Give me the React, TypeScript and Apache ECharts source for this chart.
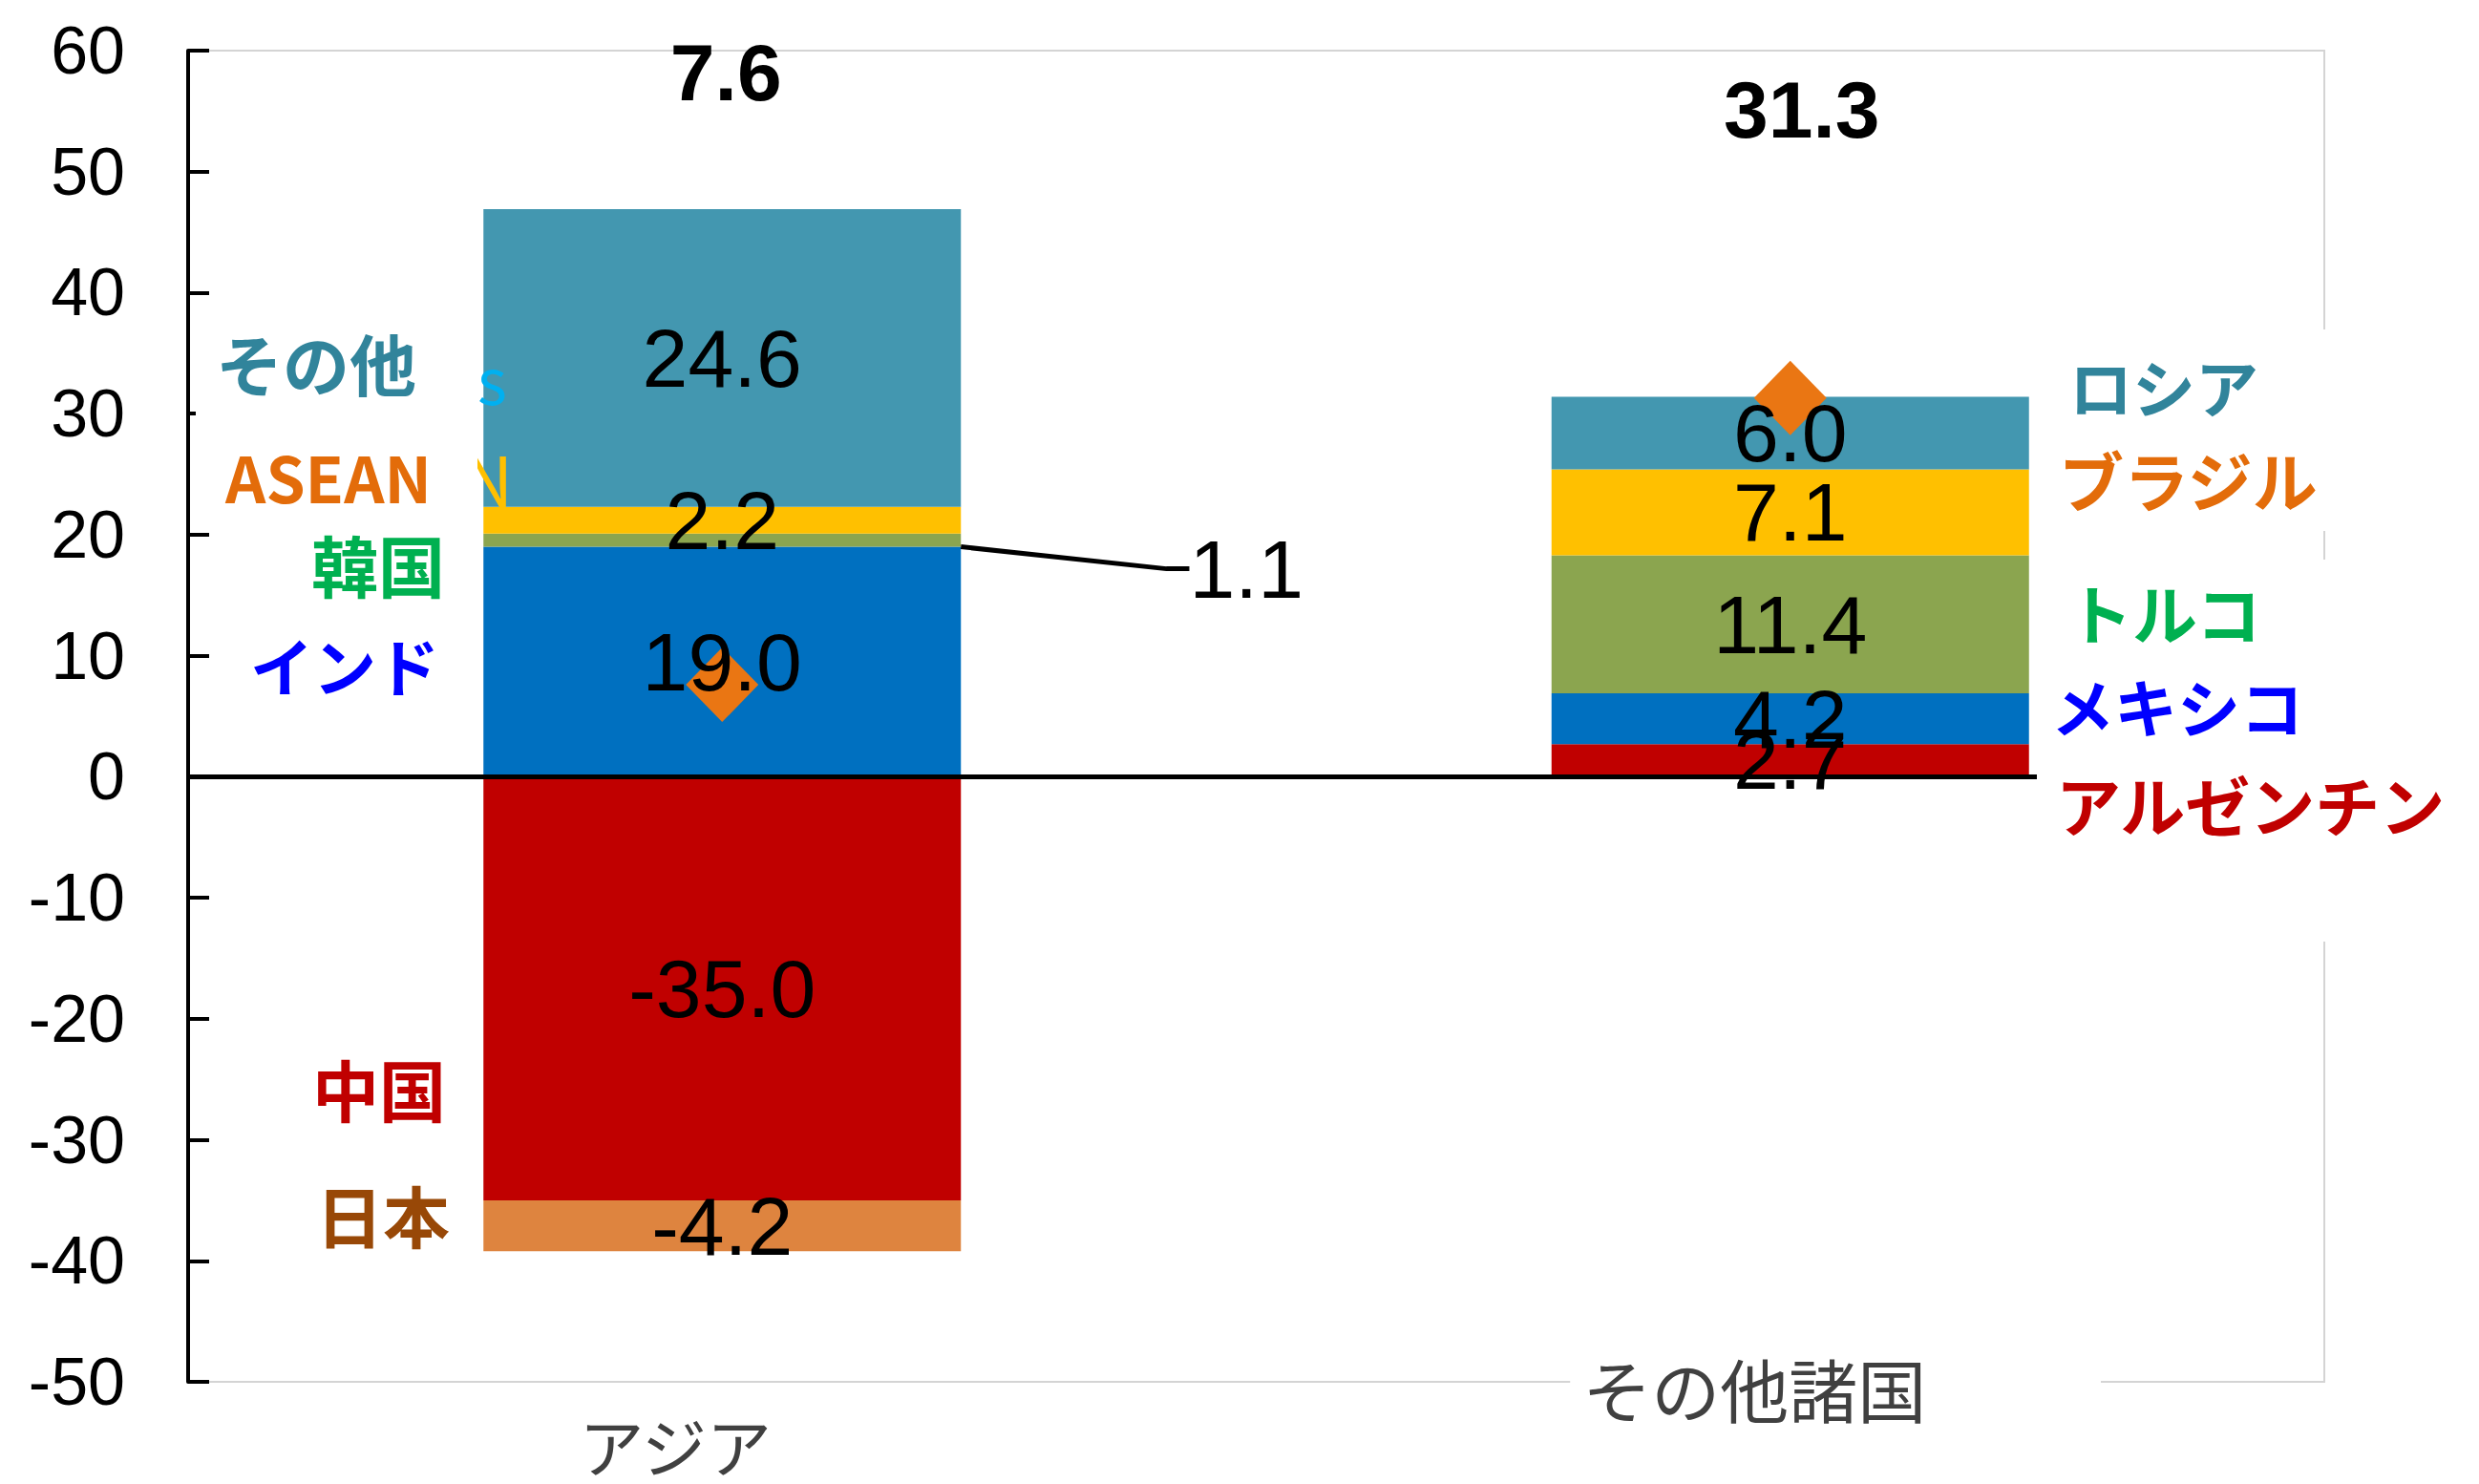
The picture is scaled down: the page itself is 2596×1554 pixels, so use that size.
import React, { useEffect, useRef } from 'react';
import * as echarts from 'echarts';

// ---------- data ----------
const categories = ['アジア', 'その他諸国'];
const asiaNames = ['インド', '韓国', 'ASEAN', 'その他', '中国', '日本'];
const asiaValues = [19.0, 1.1, 2.2, 24.6, -35.0, -4.2];
const otherNames = ['アルゼンチン', 'メキシコ', 'トルコ', 'ブラジル', 'ロシア'];
const otherValues = [2.7, 4.2, 11.4, 7.1, 6.0];
const totals = [7.6, 31.3];
const yMin = -50;
const yMax = 60;
const yInterval = 10;

// ---------- styles ----------
const asiaColors = ['#0070C0', '#8BA54F', '#FFC000', '#4397B0', '#C00000', '#DE843F'];
const otherColors = ['#C00000', '#0070C0', '#8BA54F', '#FFC000', '#4397B0'];
const asiaTextColors = ['#0000FF', '#00B050', '#E36C0A', '#31849B', '#C00000', '#984807'];
const otherTextColors = ['#C00000', '#0000FF', '#00B050', '#E36C0A', '#31849B'];

const NUM_FONT = '"Liberation Sans Narrow", "Arial Narrow", "Liberation Sans", Arial, sans-serif';
const JP_FONT = '"Noto Sans CJK JP", "Noto Sans", sans-serif';

// annotation layout (text boxes pasted on the chart)
const asiaLabelPos: Record<string, [number, number, number]> = {
  'インド': [361, 695, 66],
  '韓国': [396, 590, 70],
  'ASEAN': [344, 498, 66],
  'その他': [331, 379, 70],
  '中国': [397, 1139, 70],
  '日本': [401, 1271, 70],
};
const otherLabelPos: Record<string, [number, number, number]> = {
  'アルゼンチン': [2153, 841, 68],
  'メキシコ': [2148, 738, 66],
  'トルコ': [2165, 640, 68],
  'ブラジル': [2156, 501, 68],
  'ロシア': [2167, 403, 66],
};
const totalLabelOffsets: [number, number][] = [[4, -641], [12, -302]];

function buildOption() {
  const valueLabel = {
    show: true,
    position: 'inside',
    fontSize: 86,
    fontFamily: NUM_FONT,
    color: '#000',
    formatter: (p: any) => Number(p.value).toFixed(1),
  };

  const series: any[] = [];
  const addBars = (names: string[], values: number[], colors: string[], catIndex: number) => {
    names.forEach((name, i) => {
      const item = { value: values[i], itemStyle: { color: colors[i] } };
      const data = catIndex === 0 ? [item, '-'] : ['-', item];
      series.push({
        name,
        type: 'bar',
        stack: 'bars',
        barWidth: 500,
        barGap: '-100%',
        z: 1,
        data,
        label: { show: false },
      });
    });
  };
  const addLabels = (names: string[], values: number[], catIndex: number) => {
    names.forEach((name, i) => {
      const item = { value: values[i] };
      const data = catIndex === 0 ? [item, '-'] : ['-', item];
      const s: any = {
        name: name + ' ',
        type: 'bar',
        stack: 'labels',
        barWidth: 500,
        barGap: '-100%',
        z: 3,
        silent: true,
        itemStyle: { color: 'rgba(0,0,0,0)' },
        data,
        label: { ...valueLabel },
      };
      if (name === '韓国') {
        s.label = { ...valueLabel, padding: [0, 0, 0, 22] };
        s.labelLayout = { dx: 538, dy: 30 };
        s.labelLine = { show: true, length2: 24, lineStyle: { color: '#000', width: 5 } };
      }
      series.push(s);
    });
  };
  addBars(asiaNames, asiaValues, asiaColors, 0);
  addBars(otherNames, otherValues, otherColors, 1);
  addLabels(asiaNames, asiaValues, 0);
  addLabels(otherNames, otherValues, 1);

  series.push({
    name: '合計',
    type: 'scatter',
    z: 2,
    symbol: 'diamond',
    symbolSize: [76, 78],
    itemStyle: { color: '#EA7613', opacity: 1 },
    data: totals.map((v, i) => ({ value: v, label: { offset: totalLabelOffsets[i] } })),
    label: {
      show: true,
      position: 'inside',
      fontSize: 84,
      fontWeight: 'bold',
      fontFamily: NUM_FONT,
      color: '#000',
      formatter: (p: any) => Number(p.value).toFixed(1),
    },
    markLine: {
      silent: true,
      symbol: 'none',
      label: { show: false },
      lineStyle: { color: '#000', width: 5, type: 'solid' },
      data: [{ yAxis: 0 }],
    },
  });

  const graphic: any[] = [
    { type: 'rect', silent: true, z: 50, shape: { x: 2138, y: 345, width: 460, height: 211 }, style: { fill: '#fff' } },
    { type: 'rect', silent: true, z: 50, shape: { x: 2133, y: 586, width: 465, height: 400 }, style: { fill: '#fff' } },
    { type: 'rect', silent: true, z: 50, shape: { x: 2100, y: 1438, width: 100, height: 16 }, style: { fill: '#fff' } },
    { type: 'text', silent: true, z: 40, x: 500, y: 395, style: { text: 's', fill: '#00B0F0', fontSize: 66, fontFamily: JP_FONT, align: 'left', verticalAlign: 'middle' } },
    { type: 'text', silent: true, z: 40, x: 537, y: 499, style: { text: 'N', fill: '#FFC000', fontSize: 72, fontFamily: JP_FONT, align: 'right', verticalAlign: 'middle' } },
    { type: 'rect', silent: true, z: 45, shape: { x: 440, y: 455, width: 60, height: 85 }, style: { fill: '#fff' } },
    { type: 'rect', silent: true, z: 45, shape: { x: 205, y: 428, width: 20, height: 10 }, style: { fill: '#fff' } },
  ];
  asiaNames.forEach((name, i) => {
    const [x, y, fs] = asiaLabelPos[name];
    graphic.push({
      type: 'text', silent: true, z: 60, x, y,
      style: { text: name, fill: asiaTextColors[i], fontSize: fs, fontWeight: 'bold', fontFamily: JP_FONT, align: 'center', verticalAlign: 'middle' },
    });
  });
  otherNames.forEach((name, i) => {
    const [x, y, fs] = otherLabelPos[name];
    graphic.push({
      type: 'text', silent: true, z: 60, x, y,
      style: { text: name, fill: otherTextColors[i], fontSize: fs, fontWeight: 'bold', fontFamily: JP_FONT, align: 'left', verticalAlign: 'middle' },
    });
  });

  return {
    animation: false,
    backgroundColor: '#fff',
    grid: {
      left: 197,
      top: 53,
      width: 2237,
      height: 1394,
      show: true,
      borderColor: '#D4D4D4',
      borderWidth: 2,
      containLabel: false,
    },
    xAxis: {
      type: 'category',
      data: [
        { value: categories[0], textStyle: { padding: [60, 98, 0, 0], fontSize: 68 } },
        { value: categories[1], textStyle: { padding: [0, 88, 0, 13], fontSize: 72, backgroundColor: '#fff' } },
      ],
      axisLine: { show: false },
      axisTick: { show: false },
      axisLabel: { interval: 0, margin: -30, color: '#404040', fontFamily: JP_FONT, lineHeight: 70 },
      splitLine: { show: false },
    },
    yAxis: {
      type: 'value',
      min: yMin,
      max: yMax,
      interval: yInterval,
      axisLine: { show: true, onZero: false, lineStyle: { color: '#000', width: 4 } },
      axisTick: { show: true, inside: true, length: 22, lineStyle: { color: '#000', width: 4 } },
      axisLabel: { fontSize: 70, fontFamily: NUM_FONT, color: '#000', margin: 66 },
      splitLine: { show: false },
    },
    series,
    graphic,
  };
}

export default function App() {
  const ref = useRef<HTMLDivElement>(null);
  useEffect(() => {
    if (!ref.current) return;
    const chart = echarts.init(ref.current, undefined, { renderer: 'svg' });
    chart.setOption(buildOption() as any);
    return () => chart.dispose();
  }, []);
  return <div ref={ref} style={{ position: 'fixed', left: 0, top: 0, width: 2596, height: 1554 }} />;
}
